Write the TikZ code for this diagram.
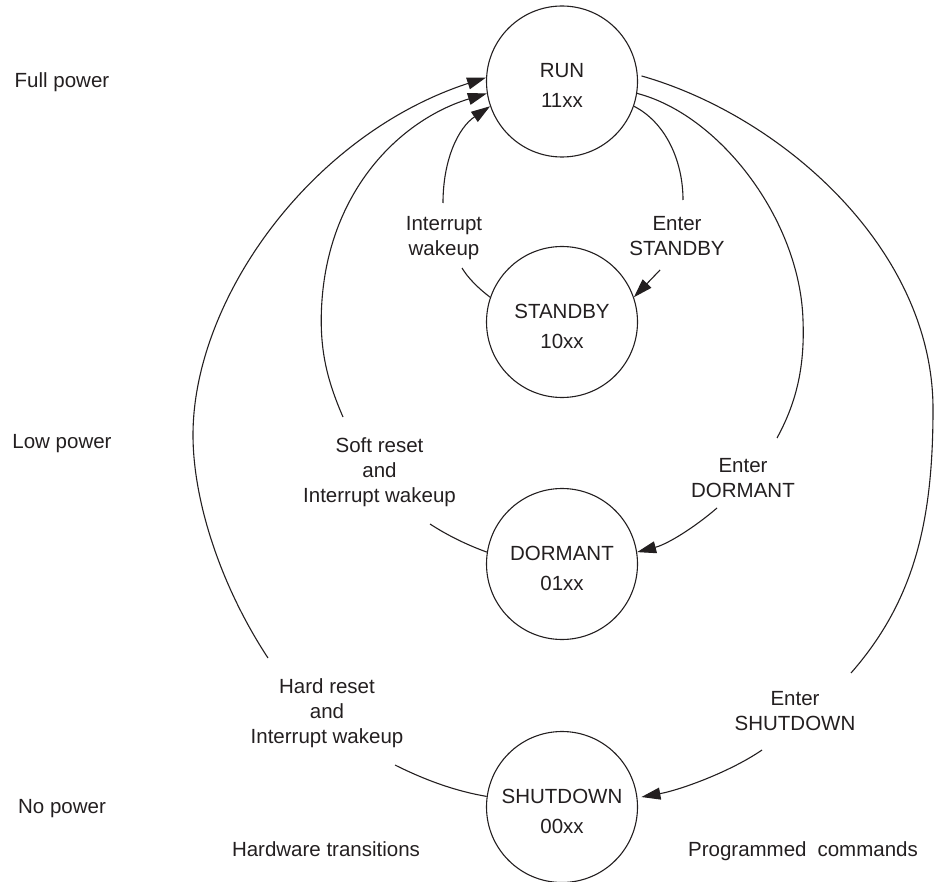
\documentclass[tikz,border=0pt]{standalone}
\usepackage{fontspec}
\setmainfont{Liberation Sans}
\usetikzlibrary{arrows.meta}
\definecolor{ink}{RGB}{35,31,32}
\begin{document}
\begin{tikzpicture}[x=1pt,y=-1pt,color=ink,
  state/.style={circle,draw,line width=1.1pt,minimum size=151pt,inner sep=0pt},
  statetext/.style={align=center,font=\fontsize{20.5}{29.5}\selectfont,inner sep=0pt},
  lbl/.style={align=center,font=\fontsize{20.5}{25}\selectfont,inner sep=0pt},
  link/.style={line width=1.1pt},
  arrowed/.style={-{Triangle[length=19pt,width=12pt]}}]
\useasboundingbox (0,0) rectangle (934,882);

% power states
\node[state] (run)      at (562,81.5) {};
\node[state] (standby)  at (562,322)  {};
\node[state] (dormant)  at (562,564)  {};
\node[state] (shutdown) at (562,807)  {};
\node[statetext] (runt)      at (562,85.7)  {RUN\\11xx};
\node[statetext] (standbyt)  at (562,326.2) {STANDBY\\10xx};
\node[statetext] (dormantt)  at (562,568.2) {DORMANT\\01xx};
\node[statetext] (shutdownt) at (562,811.2) {SHUTDOWN\\00xx};

% power levels and column headings
\node[lbl] (full) at (62,82)  {Full power};
\node[lbl] (low)  at (62,444) {Low power};
\node[lbl] (none) at (62,809) {No power};
\node[lbl] (hw)   at (326,849) {Hardware transitions};
\node[lbl] (sw)   at (803,851) {Programmed\hspace{11pt}commands};

% transition labels
\node[lbl] (lwake)  at (444,238) {Interrupt\\wakeup};
\node[lbl] (lstby)  at (677,236) {Enter\\STANDBY};
\node[lbl] (lsoft)  at (379.5,472) {Soft reset\\and\\Interrupt wakeup};
\node[lbl] (ldorm)  at (743,478) {Enter\\DORMANT};
\node[lbl] (lhard)  at (327,713) {Hard reset\\and\\Interrupt wakeup};
\node[lbl] (lshut)  at (795,711) {Enter\\SHUTDOWN};

% ends of the connectors where they break around their labels
\coordinate (iw1)  at (443,203);
\coordinate (iw2)  at (462,268);
\coordinate (es1)  at (683,200);
\coordinate (es2)  at (660,270);
\coordinate (sr1)  at (343,417);
\coordinate (sr2)  at (430,524);
\coordinate (ed1)  at (777,438);
\coordinate (ed2)  at (717,508);
\coordinate (hr1)  at (268,658);
\coordinate (hr2)  at (395,765);
\coordinate (esd1) at (851,673);
\coordinate (esd2) at (762,750);

% STANDBY -> RUN
\draw[link] (standby.161) .. controls (478,288) and (468,278) .. (iw2);
\draw[link,arrowed] (iw1) .. controls (443,160) and (458,128) .. (run.199);

% RUN -> STANDBY
\draw[link] (run.-19) .. controls (665,122) and (683,160) .. (es1);
\draw[link,arrowed] (es2) -- (standby.19);

% DORMANT -> RUN
\draw[link] (dormant.171) .. controls (470,546) and (450,537) .. (sr2);
\draw[link,arrowed] (sr1) .. controls (327,380) and (318.5,348) .. (322,300)
  .. controls (330,190) and (400,120) .. (run.189);

% RUN -> DORMANT
\draw[link] (run.-9) .. controls (720,115) and (800,220) .. (803,320)
  .. controls (805,370) and (795,405) .. (ed1);
\draw[link,arrowed] (ed2) .. controls (695,527) and (668,544) .. (dormant.9);

% SHUTDOWN -> RUN
\draw[link] (shutdown.172) .. controls (455,791) and (425,780) .. (hr2);
\draw[link,arrowed] (hr1) .. controls (220,585) and (193,500) .. (193,435)
  .. controls (193,300) and (310,135) .. (run.177);

% RUN -> SHUTDOWN
\draw[link,shorten <=4pt] (run.5) .. controls (782,116) and (933,249) .. (933,409)
  .. controls (933,520) and (915,600) .. (esd1);
\draw[link,arrowed,shorten >=4pt] (esd2) .. controls (730,772) and (680,790) .. (shutdown.7);
\end{tikzpicture}
\end{document}
